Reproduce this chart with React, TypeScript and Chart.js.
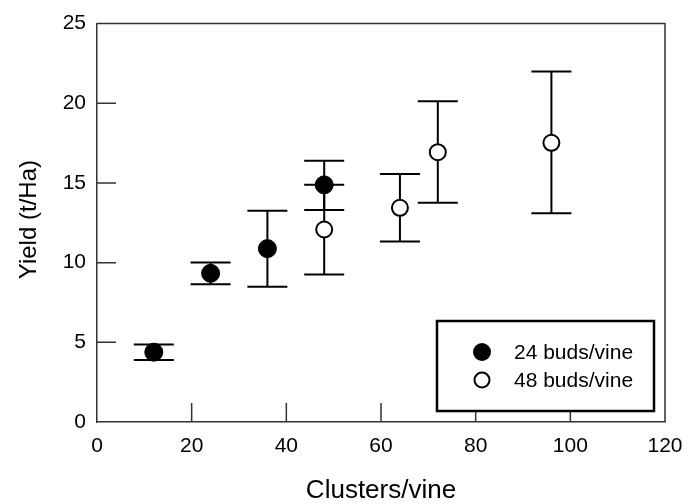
import React, { useEffect, useRef } from "react";
import { Chart, registerables } from "chart.js";

Chart.register(...registerables);

const xTicks = [0, 20, 40, 60, 80, 100, 120];
const yTicks = [0, 5, 10, 15, 20, 25];

const series24Label = "24 buds/vine";
const series24X = [12, 24, 36, 48];
const series24Y = [4.38, 9.33, 10.88, 14.88];
const series24Low = [3.89, 8.65, 8.49, 13.3];
const series24High = [4.87, 10.01, 13.25, 16.4];

const series48Label = "48 buds/vine";
const series48X = [48, 64, 72, 96];
const series48Y = [12.08, 13.44, 16.93, 17.52];
const series48Low = [9.26, 11.33, 13.76, 13.1];
const series48High = [14.88, 15.57, 20.13, 21.99];

const xTitle = "Clusters/vine";
const yTitle = "Yield (t/Ha)";

const FONT = "Arial, 'Liberation Sans', sans-serif";

export default function App() {
  const ref = useRef<HTMLCanvasElement | null>(null);

  useEffect(() => {
    document.body.style.margin = "0";
    const canvas = ref.current;
    if (!canvas) return;

    const errors = [
      { x: series24X, lo: series24Low, hi: series24High },
      { x: series48X, lo: series48Low, hi: series48High },
    ];

    const plugin = {
      id: "custom",
      beforeDatasetsDraw(chart: any) {
        const ctx = chart.ctx;
        const xs = chart.scales.x;
        const ys = chart.scales.y;
        ctx.save();
        ctx.strokeStyle = "#000";
        ctx.lineWidth = 2;
        errors.forEach((e) => {
          e.x.forEach((xv, i) => {
            const px = xs.getPixelForValue(xv);
            const pl = ys.getPixelForValue(e.lo[i]);
            const ph = ys.getPixelForValue(e.hi[i]);
            ctx.beginPath();
            ctx.moveTo(px, pl);
            ctx.lineTo(px, ph);
            ctx.moveTo(px - 20, pl);
            ctx.lineTo(px + 20, pl);
            ctx.moveTo(px - 20, ph);
            ctx.lineTo(px + 20, ph);
            ctx.stroke();
          });
        });
        ctx.restore();
      },
      afterDraw(chart: any) {
        const ctx = chart.ctx;
        const xs = chart.scales.x;
        const ys = chart.scales.y;
        const a = chart.chartArea;
        ctx.save();
        // frame and inner ticks
        ctx.strokeStyle = "#333";
        ctx.lineWidth = 1.5;
        ctx.beginPath();
        ctx.moveTo(a.left, a.top);
        ctx.lineTo(a.right, a.top);
        ctx.lineTo(a.right, a.bottom);
        yTicks.slice(1, -1).forEach((v) => {
          const py = ys.getPixelForValue(v);
          ctx.moveTo(a.left, py);
          ctx.lineTo(a.left + 19, py);
        });
        xTicks.slice(1, -1).forEach((v) => {
          const px = xs.getPixelForValue(v);
          ctx.moveTo(px, a.bottom);
          ctx.lineTo(px, a.bottom - 19);
        });
        ctx.stroke();

        // axis titles
        ctx.fillStyle = "#000";
        ctx.font = `26px ${FONT}`;
        ctx.textAlign = "center";
        ctx.textBaseline = "middle";
        ctx.fillText(xTitle, (a.left + a.right) / 2, 491);
        ctx.save();
        ctx.font = `24px ${FONT}`;
        ctx.translate(29, a.top + 196);
        ctx.rotate(-Math.PI / 2);
        ctx.fillText(yTitle, 0, 0);
        ctx.restore();

        // legend
        const lx = 437, ly = 321, lw = 217, lh = 90;
        ctx.fillStyle = "#fff";
        ctx.fillRect(lx, ly, lw, lh);
        ctx.strokeStyle = "#000";
        ctx.lineWidth = 2.5;
        ctx.strokeRect(lx, ly, lw, lh);
        ctx.beginPath();
        ctx.arc(482, 352, 9, 0, Math.PI * 2);
        ctx.fillStyle = "#000";
        ctx.fill();
        ctx.beginPath();
        ctx.arc(482, 380, 7.5, 0, Math.PI * 2);
        ctx.fillStyle = "#fff";
        ctx.fill();
        ctx.lineWidth = 2;
        ctx.stroke();
        ctx.fillStyle = "#000";
        ctx.font = `21px ${FONT}`;
        ctx.textAlign = "left";
        ctx.fillText(series24Label, 514, 353);
        ctx.fillText(series48Label, 514, 381);
        ctx.restore();
      },
    };

    const chart = new Chart(canvas, {
      type: "scatter",
      data: {
        datasets: [
          {
            label: series24Label,
            data: series24X.map((x, i) => ({ x, y: series24Y[i] })),
            backgroundColor: "#000",
            borderColor: "#000",
            borderWidth: 1,
            pointRadius: 9,
            pointHoverRadius: 9,
          },
          {
            label: series48Label,
            data: series48X.map((x, i) => ({ x, y: series48Y[i] })),
            backgroundColor: "#fff",
            borderColor: "#000",
            borderWidth: 2,
            pointRadius: 8,
            pointHoverRadius: 8,
          },
        ],
      },
      options: {
        animation: false,
        responsive: true,
        maintainAspectRatio: false,
        layout: { padding: { left: 0, right: 32, top: 23, bottom: 0 } },
        plugins: {
          legend: { display: false },
          tooltip: { enabled: false },
        },
        scales: {
          x: {
            type: "linear",
            min: 0,
            max: 120,
            afterFit: (s: any) => {
              s.height = 82;
            },
            afterBuildTicks: (s: any) => {
              s.ticks = xTicks.map((v) => ({ value: v }));
            },
            grid: { display: false, drawTicks: false },
            border: { display: true, color: "#333", width: 1.5 },
            ticks: {
              color: "#000",
              font: { size: 21, family: FONT },
              padding: 12,
              maxRotation: 0,
            },
          },
          y: {
            type: "linear",
            min: 0,
            max: 25,
            afterFit: (s: any) => {
              s.width = 97;
            },
            afterBuildTicks: (s: any) => {
              s.ticks = yTicks.map((v) => ({ value: v }));
            },
            grid: { display: false, drawTicks: false },
            border: { display: true, color: "#333", width: 1.5 },
            ticks: {
              color: "#000",
              font: { size: 21, family: FONT },
              padding: 11,
            },
          },
        },
      },
      plugins: [plugin],
    });

    return () => chart.destroy();
  }, []);

  return (
    <div style={{ width: 697, height: 504, position: "relative", background: "#fff" }}>
      <canvas ref={ref} />
    </div>
  );
}
